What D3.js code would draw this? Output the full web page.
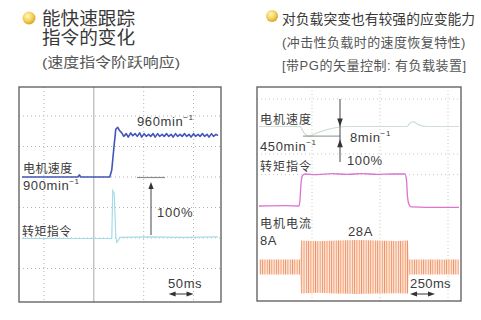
<!DOCTYPE html>
<html><head><meta charset="utf-8">
<script src="https://cdn.jsdelivr.net/npm/d3@7"></script>
<style>
html,body{margin:0;padding:0;background:#fff;}
svg{display:block;}
text{font-family:"Liberation Sans","Noto Sans CJK SC",sans-serif;}
</style>
</head><body>
<svg id="c" width="481" height="320"></svg>
<script>
// ---------- Step response: speed command step 900 -> 960 min^-1 ----------
const stepSpeedTime = [6, 60, 118, 121, 124, 182, 186, 190, 194, 198, 202,
  206, 210, 215, 219, 224, 228, 233, 237, 242, 246, 251, 255, 260, 264, 269, 273, 278, 282,
  287, 291, 296, 300, 305, 309, 314, 318, 323, 327, 332, 336, 341, 345, 350, 354, 359, 363,
  368, 372, 377, 381, 386, 390, 395, 399];
const stepSpeed = [900, 900, 900, 903, 900, 900, 910, 940, 968, 971, 966,
  963, 958, 962, 957, 963, 959, 962, 958, 963, 957, 962, 958, 961, 958, 962, 957, 962, 958,
  961, 958, 962, 958, 961, 957, 962, 958, 961, 958, 962, 958, 961, 957, 962, 958, 961, 958,
  962, 958, 961, 957, 962, 958, 961, 959];
const stepTorqueTime = [6, 186, 188, 191, 194, 196, 199, 202, 260, 330, 399];
const stepTorque = [0, 0, 85, 80, 5, -7, -4, 2, 3, 2, 3];

// ---------- Impact load: vector control with PG, 450 min^-1 ----------
const loadSpeedTime = [20, 430, 470, 520, 600, 700, 900, 1500, 1530, 1560, 1620, 1700, 2020];
const loadSpeed = [450, 450, 446, 444, 446, 448, 450, 450, 452, 453, 451, 450, 450];
const loadTorqueTime = [20, 300, 420, 430, 440, 455, 480, 600, 750, 900, 1050, 1200, 1350,
  1480, 1495, 1505, 1520, 1545, 1700, 2020];
const loadTorque = [0, 1, 0, 20, 70, 95, 100, 98, 101, 99, 101, 99, 100,
  100, 80, 30, 5, -3, -4, -4];
const loadCurrentTime = [20, 430, 440, 600, 800, 1000, 1200, 1400, 1500, 1510, 1520, 2020];
const loadCurrentAmp = [8, 8, 28, 27, 28, 28.5, 28, 27.5, 28, 28, 8, 8];

const svg = d3.select("#c");
const defs = svg.append("defs");

// bullet gradient
const grad = defs.append("radialGradient").attr("id", "dot")
  .attr("cx", "40%").attr("cy", "35%").attr("r", "65%");
grad.append("stop").attr("offset", "0%").attr("stop-color", "#fff7c0");
grad.append("stop").attr("offset", "55%").attr("stop-color", "#f5d560");
grad.append("stop").attr("offset", "100%").attr("stop-color", "#d9a526");

// striped fill for the AC current trace
const pat = defs.append("pattern").attr("id", "ac").attr("patternUnits", "userSpaceOnUse")
  .attr("width", 2.3).attr("height", 20);
pat.append("rect").attr("width", 2.3).attr("height", 20).attr("fill", "#fce6da");
pat.append("rect").attr("width", 0.85).attr("height", 20).attr("fill", "#f2905e");

function title(x, y, str, size, len, color) {
  const t = svg.append("text").attr("x", x).attr("y", y).attr("font-size", size)
    .attr("fill", color).text(str);
  if (len) t.attr("textLength", len).attr("lengthAdjust", "spacingAndGlyphs");
  return t;
}
function label(x, y, str, size, opts = {}) {
  const t = svg.append("text").attr("x", x).attr("y", y).attr("font-size", size)
    .attr("fill", "#3a3a3a").attr("letter-spacing", opts.ls || 0);
  if (opts.sup) {
    t.append("tspan").text(str);
    t.append("tspan").attr("font-size", size * 0.62).attr("dy", -size * 0.42).text(opts.sup);
  } else t.text(str);
  return t;
}

// ---------- headings ----------
svg.append("circle").attr("cx", 29).attr("cy", 18).attr("r", 6.5).attr("fill", "url(#dot)");
title(42, 25, "能快速跟踪", 18, 93, "#383838");
title(42, 43.5, "指令的变化", 18, 93, "#383838");
title(42, 67, "(速度指令阶跃响应)", 13.5, 138, "#555");

svg.append("circle").attr("cx", 272).attr("cy", 16).attr("r", 6).attr("fill", "url(#dot)");
title(282, 23.5, "对负载突变也有较强的应变能力", 13.8, null, "#383838");
title(282, 46.5, "(冲击性负载时的速度恢复特性)", 13, null, "#555").attr("letter-spacing", 0.4);
title(282, 69.5, "[带PG的矢量控制: 有负载装置]", 13, null, "#555").attr("letter-spacing", 0.5);

// ---------- left panel ----------
const L = {x0: 19, x1: 221, y0: 87, y1: 302};
const xL = d3.scaleLinear().domain([0, 405]).range([L.x0, L.x1]);
const ySpdL = d3.scaleLinear().domain([900, 960]).range([177, 135]);
const yTrqL = d3.scaleLinear().domain([0, 100]).range([238.5, 182]);
const yDivL = d3.scaleLinear().domain([0, 1]).range([116, 146.5]);

const gL = svg.append("g");
gL.append("rect").attr("x", L.x0).attr("y", L.y0).attr("width", L.x1 - L.x0)
  .attr("height", L.y1 - L.y0).attr("fill", "#fff");
[50, 250, 350].forEach(t => gL.append("line").attr("x1", xL(t)).attr("x2", xL(t))
  .attr("y1", L.y0).attr("y2", L.y1).attr("stroke", "#b4b4b4").attr("stroke-dasharray", "1,3"));
[0, 1, 2, 3, 4, 5].forEach(d => gL.append("line").attr("x1", L.x0).attr("x2", L.x1)
  .attr("y1", yDivL(d)).attr("y2", yDivL(d)).attr("stroke", "#b4b4b4").attr("stroke-dasharray", "1,3"));
gL.append("line").attr("x1", xL(150)).attr("x2", xL(150)).attr("y1", L.y0).attr("y2", L.y1)
  .attr("stroke", "#a8a8a8").attr("stroke-width", 1);

// reference level and 100% torque arrow
gL.append("line").attr("x1", 137).attr("x2", 165).attr("y1", ySpdL(900) + 0.5).attr("y2", ySpdL(900) + 0.5)
  .attr("stroke", "#8a8a8a").attr("stroke-width", 1.2);

const lineL = d3.line().x(d => xL(d[0])).y(d => d[1]);
gL.append("path")
  .datum(stepTorqueTime.map((t, i) => [t, yTrqL(stepTorque[i])]))
  .attr("d", lineL).attr("fill", "none").attr("stroke", "#a6dbe9").attr("stroke-width", 1.2);
gL.append("path")
  .datum(stepSpeedTime.map((t, i) => [t, ySpdL(stepSpeed[i])]))
  .attr("d", lineL).attr("fill", "none").attr("stroke", "#4355b8").attr("stroke-width", 1.6)
  .attr("stroke-linejoin", "round");

const ax = 151;
gL.append("line").attr("x1", ax).attr("x2", ax).attr("y1", yTrqL(100) + 5).attr("y2", yTrqL(0) - 3.5)
  .attr("stroke", "#444").attr("stroke-width", 1);
gL.append("path").attr("d", `M${ax},${yTrqL(100)} L${ax - 2.6},${yTrqL(100) + 7} L${ax + 2.6},${yTrqL(100) + 7}Z`)
  .attr("fill", "#333");

gL.append("rect").attr("x", L.x0).attr("y", L.y0).attr("width", L.x1 - L.x0)
  .attr("height", L.y1 - L.y0).attr("fill", "none").attr("stroke", "#5a5a5a").attr("stroke-width", 1.3);

label(137, 125.6, "960min", 13, {ls: 0.6, sup: "−1"});
label(23, 172.6, "电机速度", 12, {ls: 0.4});
label(23, 189.6, "900min", 13, {ls: 0.6, sup: "−1"});
label(157, 216.6, "100%", 13, {ls: 0.8});
label(22, 235.5, "转矩指令", 12, {ls: 0.4});
label(168, 287.6, "50ms", 13, {ls: 0.6});

function scaleBar(g, x1, x2, y) {
  g.append("line").attr("x1", x1 + 4).attr("x2", x2 - 4).attr("y1", y).attr("y2", y)
    .attr("stroke", "#333").attr("stroke-width", 1);
  g.append("path").attr("d", `M${x1},${y} L${x1 + 7},${y - 2.6} L${x1 + 7},${y + 2.6}Z`).attr("fill", "#333");
  g.append("path").attr("d", `M${x2},${y} L${x2 - 7},${y - 2.6} L${x2 - 7},${y + 2.6}Z`).attr("fill", "#333");
}
scaleBar(gL, xL(300), xL(350), 294);

// ---------- right panel ----------
const R = {x0: 257, x1: 461, y0: 87, y1: 301};
const xR = d3.scaleLinear().domain([0, 2040]).range([R.x0, R.x1]);
const ySpdR = d3.scaleLinear().domain([450, 442]).range([126.5, 139.3]);
const yTrqR = d3.scaleLinear().domain([0, 100]).range([206, 174]);
const yCurR = d3.scaleLinear().domain([-30, 30]).range([267 + 28.5, 267 - 28.5]);
const yDivR = d3.scaleLinear().domain([0, 1]).range([99, 126.5]);

const gR = svg.append("g");
gR.append("rect").attr("x", R.x0).attr("y", R.y0).attr("width", R.x1 - R.x0)
  .attr("height", R.y1 - R.y0).attr("fill", "#fff");
[550, 1230, 1910].forEach(t => gR.append("line").attr("x1", xR(t)).attr("x2", xR(t))
  .attr("y1", R.y0).attr("y2", R.y1).attr("stroke", "#c2cbb8").attr("stroke-dasharray", "1,2.5"));
[0, 2, 2.75].forEach(d => gR.append("line").attr("x1", R.x0).attr("x2", R.x1)
  .attr("y1", yDivR(d)).attr("y2", yDivR(d)).attr("stroke", "#c8c8c8").attr("stroke-dasharray", "1,3"));

const lineR = d3.line().x(d => xR(d[0])).y(d => d[1]).curve(d3.curveMonotoneX);

// AC current envelope
gR.append("path")
  .datum(loadCurrentTime.map((t, i) => [t, loadCurrentAmp[i]]))
  .attr("d", d3.area().x(d => xR(d[0])).y0(d => yCurR(-d[1])).y1(d => yCurR(d[1])))
  .attr("fill", "url(#ac)");

gR.append("path")
  .datum(loadSpeedTime.map((t, i) => [t, ySpdR(loadSpeed[i])]))
  .attr("d", lineR).attr("fill", "none").attr("stroke", "#cfddd2").attr("stroke-width", 1.2);
gR.append("path")
  .datum(loadTorqueTime.map((t, i) => [t, yTrqR(loadTorque[i])]))
  .attr("d", lineR).attr("fill", "none").attr("stroke", "#dd72cf").attr("stroke-width", 1.3);

// 8 min^-1 speed dip marker
const bx = 340;
gR.append("line").attr("x1", 303).attr("x2", bx).attr("y1", ySpdR(444)).attr("y2", ySpdR(444))
  .attr("stroke", "#8a8a8a").attr("stroke-width", 1);
gR.append("line").attr("x1", bx).attr("x2", bx).attr("y1", 99).attr("y2", 162)
  .attr("stroke", "#444").attr("stroke-width", 1);
gR.append("path").attr("d", `M${bx},${ySpdR(450)} L${bx - 2.8},${ySpdR(450) - 8} L${bx + 2.8},${ySpdR(450) - 8}Z`)
  .attr("fill", "#333");
gR.append("path").attr("d", `M${bx},${ySpdR(442)} L${bx - 2.8},${ySpdR(442) + 8} L${bx + 2.8},${ySpdR(442) + 8}Z`)
  .attr("fill", "#333");

gR.append("rect").attr("x", R.x0).attr("y", R.y0).attr("width", R.x1 - R.x0)
  .attr("height", R.y1 - R.y0).attr("fill", "none").attr("stroke", "#5a5a5a").attr("stroke-width", 1.3);

label(260, 123.6, "电机速度", 12, {ls: 1});
label(260, 150.6, "450min", 13, {ls: 0.6, sup: "−1"});
label(260, 170.6, "转矩指令", 12, {ls: 1});
label(350, 141.6, "8min", 13, {ls: 0.6, sup: "−1"});
label(347, 164.6, "100%", 13, {ls: 0.6});
label(260, 227.6, "电机电流", 12, {ls: 1});
label(260, 244.6, "8A", 13, {ls: 0.6});
label(348, 235.6, "28A", 13, {ls: 0.6});
label(410, 287.6, "250ms", 13, {ls: 0.4});
scaleBar(gR, xR(1530), xR(1780), 294);
</script>
</body></html>
